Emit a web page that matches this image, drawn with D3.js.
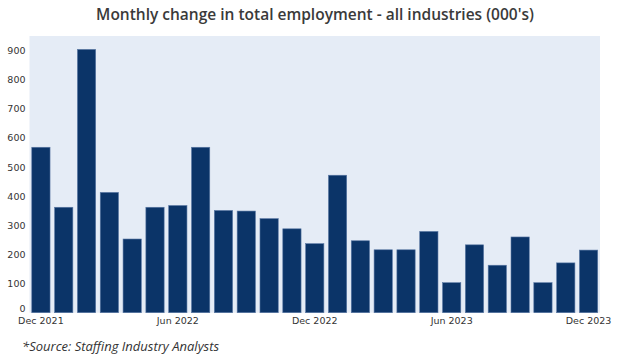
<!DOCTYPE html>
<html>
<head>
<meta charset="utf-8">
<script src="https://cdn.jsdelivr.net/npm/d3@7"></script>
<style>
  html, body { margin: 0; padding: 0; background: #fff; }
  svg { display: block; }
</style>
</head>
<body>
<svg id="chart" width="630" height="359"></svg>
<script>
const months = ["Dec 2021","Jan 2022","Feb 2022","Mar 2022","Apr 2022","May 2022","Jun 2022","Jul 2022","Aug 2022","Sep 2022","Oct 2022","Nov 2022","Dec 2022","Jan 2023","Feb 2023","Mar 2023","Apr 2023","May 2023","Jun 2023","Jul 2023","Aug 2023","Sep 2023","Oct 2023","Nov 2023","Dec 2023"];
const change = [568, 362, 904, 413, 253, 362, 368, 568, 351, 349, 323, 288, 237, 472, 247, 216, 216, 279, 103, 233, 163, 260, 103, 171, 215];
const xTickLabels = ["Dec 2021","Jun 2022","Dec 2022","Jun 2023","Dec 2023"];
const yTicks = [0,100,200,300,400,500,600,700,800,900];
const titleText = "Monthly change in total employment - all industries (000's)";
const sourceText = "*Source: Staffing Industry Analysts";

const svg = d3.select("#chart");
const m = {left: 29.5, right: 30, top: 36, bottom: 46.3};
const W = 630, H = 359;
const pw = W - m.left - m.right, ph = H - m.top - m.bottom;

svg.append("text")
  .attr("x", 315).attr("y", 19.5)
  .attr("text-anchor", "middle")
  .attr("font-family", "'Open Sans', sans-serif")
  .attr("font-weight", "600")
  .attr("font-size", 15.5)
  .attr("fill", "#3a3a3a")
  .text(titleText);

const g = svg.append("g").attr("transform", `translate(${m.left},${m.top})`);

g.append("rect").attr("width", pw).attr("height", ph).attr("fill", "#e5ecf6");

const x = d3.scaleBand().domain(months).range([0, pw]).paddingInner(0.2).paddingOuter(0.1);
const y = d3.scaleLinear().domain([0, 950]).range([ph, 0]);

g.selectAll("rect.bar").data(months).join("rect")
  .attr("class", "bar")
  .attr("x", d => x(d))
  .attr("width", x.bandwidth())
  .attr("y", (d, i) => y(change[i]))
  .attr("height", (d, i) => y(0) - y(change[i]))
  .attr("fill", "#0b3468")
  .attr("stroke", "#5a78a4")
  .attr("stroke-width", 0.6);

const yAxis = d3.axisLeft(y).tickValues(yTicks).tickSize(0).tickPadding(4);
const ya = g.append("g").call(yAxis);
ya.select(".domain").remove();
ya.selectAll("text").attr("font-family", "'DejaVu Sans', sans-serif").attr("font-size", 9.5).attr("fill", "#333");
ya.selectAll(".tick").filter(d => d === 0).select("text").attr("dy", "-0.1em");

const xAxis = d3.axisBottom(x).tickValues(xTickLabels).tickSize(0).tickPadding(5);
const xa = g.append("g").attr("transform", `translate(0,${ph})`).call(xAxis);
xa.select(".domain").remove();
xa.selectAll("text").attr("font-family", "'DejaVu Sans', sans-serif").attr("font-size", 9.5).attr("fill", "#333");

svg.append("text")
  .attr("x", 22).attr("y", 351)
  .attr("font-family", "'Open Sans', sans-serif")
  .attr("font-style", "italic")
  .attr("font-size", 13)
  .attr("fill", "#333")
  .text(sourceText);
</script>
</body>
</html>
